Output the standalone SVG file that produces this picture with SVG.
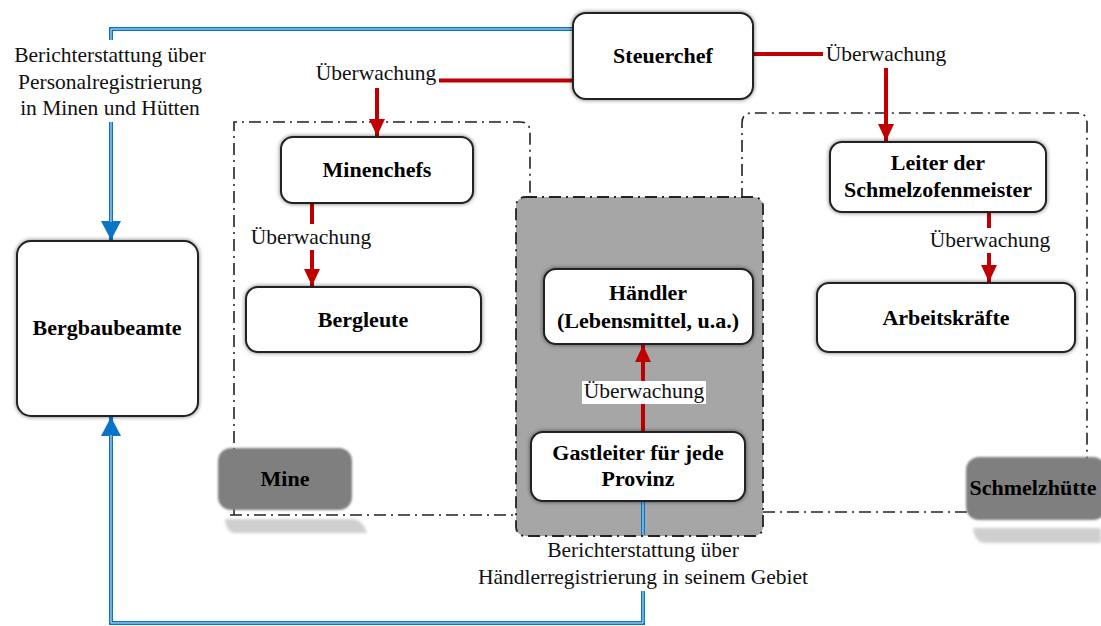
<svg xmlns="http://www.w3.org/2000/svg" width="1101" height="626" viewBox="0 0 1101 626">
<defs>
<style>
.node{fill:#fff;stroke:#222;stroke-width:2;filter:url(#sh)}
.lbl{font-family:"Liberation Serif",serif;font-size:22px;font-weight:bold;text-anchor:middle;fill:#000}
.txt{font-family:"Liberation Serif",serif;font-size:21.5px;text-anchor:middle;fill:#111}
.cont{fill:none;stroke:#222;stroke-width:1.6;stroke-dasharray:12,5,2,5}
.red{fill:none;stroke:#c00000;stroke-width:4}
.blue{fill:none;stroke:#0a74c6;stroke-width:4}
.bluein{fill:none;stroke:#d6e8f7;stroke-width:1}
.tag{fill:#7f7f7f;filter:url(#bl)}
.tagsh{fill:#cfcfcf;filter:url(#bl2)}
</style>
<filter id="sh" x="-10%" y="-20%" width="120%" height="140%">
<feDropShadow dx="0" dy="0" stdDeviation="2" flood-color="#000" flood-opacity="0.55"/>
</filter>
<filter id="bl" x="-10%" y="-20%" width="120%" height="140%"><feGaussianBlur stdDeviation="1.2"/></filter>
<filter id="bl2" x="-10%" y="-50%" width="120%" height="200%"><feGaussianBlur stdDeviation="1.5"/></filter>
<marker id="ra" markerUnits="userSpaceOnUse" viewBox="0 0 17 16" refX="17" refY="8" markerWidth="17" markerHeight="16" orient="auto"><path d="M0,0 L17,8 L0,16 z" fill="#c00000"/></marker>
<marker id="ba" markerUnits="userSpaceOnUse" viewBox="0 0 19 20" refX="19" refY="10" markerWidth="19" markerHeight="20" orient="auto"><path d="M0,0 L19,10 L0,20 z" fill="#0a74c6"/></marker>
</defs>
<rect width="1101" height="626" fill="#fff"/>

<g id="mine-container">
<path class="cont" d="M234,515 V122 H520 Q530,122 530,132 V200"/>
<path class="cont" d="M230,515 H516"/>
</g>
<g id="smelter-container">
<path class="cont" d="M742,200 V123 Q742,113 752,113 H1077 Q1087,113 1087,123 V460"/>
<path class="cont" d="M763,512 H968"/>
</g>
<g id="haendler-container">
<rect x="516" y="197" width="247" height="339" rx="9" fill="#a6a6a6" stroke="#222" stroke-width="1.8" stroke-dasharray="12,5,2,5"/>
</g>

<g id="connectors">
<path class="blue" d="M573,29 H111 V40"/>
<path class="bluein" d="M573,29 H111 V40"/>
<path class="blue" d="M111,122 V240" marker-end="url(#ba)"/>
<path class="bluein" d="M111,122 V222"/>
<path class="blue" d="M643,502 V535"/>
<path class="bluein" d="M643,502 V535"/>
<path class="blue" d="M643,591 V623 H111 V417" marker-end="url(#ba)"/>
<path class="bluein" d="M643,591 V623 H111 V435"/>
<path class="red" d="M573,80.5 H439"/>
<path class="red" d="M377,88 V136" marker-end="url(#ra)"/>
<path class="red" d="M753,54 H823"/>
<path class="red" d="M886,68 V141" marker-end="url(#ra)"/>
<path class="red" d="M312,204 V224"/>
<path class="red" d="M312,250 V286" marker-end="url(#ra)"/>
<path class="red" d="M989,213 V228"/>
<path class="red" d="M989,253 V282" marker-end="url(#ra)"/>
<path class="red" d="M643,431 V403"/>
<path class="red" d="M643,381 V345" marker-end="url(#ra)"/>
<text class="txt" x="110" y="62">Berichterstattung über</text>
<text class="txt" x="110" y="89">Personalregistrierung</text>
<text class="txt" x="110" y="115">in Minen und Hütten</text>
<text class="txt" x="376" y="80">Überwachung</text>
<text class="txt" x="886" y="61">Überwachung</text>
<text class="txt" x="311" y="244">Überwachung</text>
<text class="txt" x="990" y="247">Überwachung</text>
<rect x="582" y="381" width="124" height="23" fill="#fff"/>
<text class="txt" x="644" y="398">Überwachung</text>
<text class="txt" x="643" y="557">Berichterstattung über</text>
<text class="txt" x="643" y="584">Händlerregistrierung in seinem Gebiet</text>
</g>

<g id="steuerchef"><rect class="node" x="573" y="13" width="180" height="86" rx="13"/><text class="lbl" x="663" y="63">Steuerchef</text></g>
<g id="minenchefs"><rect class="node" x="281" y="137" width="192" height="66" rx="12"/><text class="lbl" x="377" y="177">Minenchefs</text></g>
<g id="bergleute"><rect class="node" x="246" y="287" width="235" height="65" rx="12"/><text class="lbl" x="363" y="327">Bergleute</text></g>
<g id="bergbaubeamte"><rect class="node" x="17" y="241" width="181" height="175" rx="14"/><text class="lbl" x="107" y="335">Bergbaubeamte</text></g>
<g id="haendler"><rect class="node" x="544" y="269" width="209" height="75" rx="12"/><text class="lbl" x="648" y="300">Händler</text><text class="lbl" x="648" y="328">(Lebensmittel, u.a.)</text></g>
<g id="gastleiter"><rect class="node" x="531" y="432" width="214" height="69" rx="12"/><text class="lbl" x="638" y="460">Gastleiter für jede</text><text class="lbl" x="638" y="486">Provinz</text></g>
<g id="leiter"><rect class="node" x="830" y="142" width="216" height="70" rx="12"/><text class="lbl" x="938" y="170">Leiter der</text><text class="lbl" x="938" y="197">Schmelzofenmeister</text></g>
<g id="arbeitskraefte"><rect class="node" x="817" y="283" width="258" height="69" rx="12"/><text class="lbl" x="946" y="325">Arbeitskräfte</text></g>

<g id="mine-tag">
<path class="tagsh" d="M225,519 H352 Q362,519 367,533 H236 Q226,533 225,519 z"/>
<rect class="tag" x="218" y="448" width="134" height="62" rx="13"/>
<text class="lbl" x="285" y="486">Mine</text>
</g>
<g id="schmelzhuette-tag">
<path class="tagsh" d="M973,528 H1101 V543 H985 Q975,543 973,528 z"/>
<rect class="tag" x="966" y="457" width="140" height="63" rx="13"/>
<text class="lbl" x="1033" y="495">Schmelzhütte</text>
</g>
</svg>
